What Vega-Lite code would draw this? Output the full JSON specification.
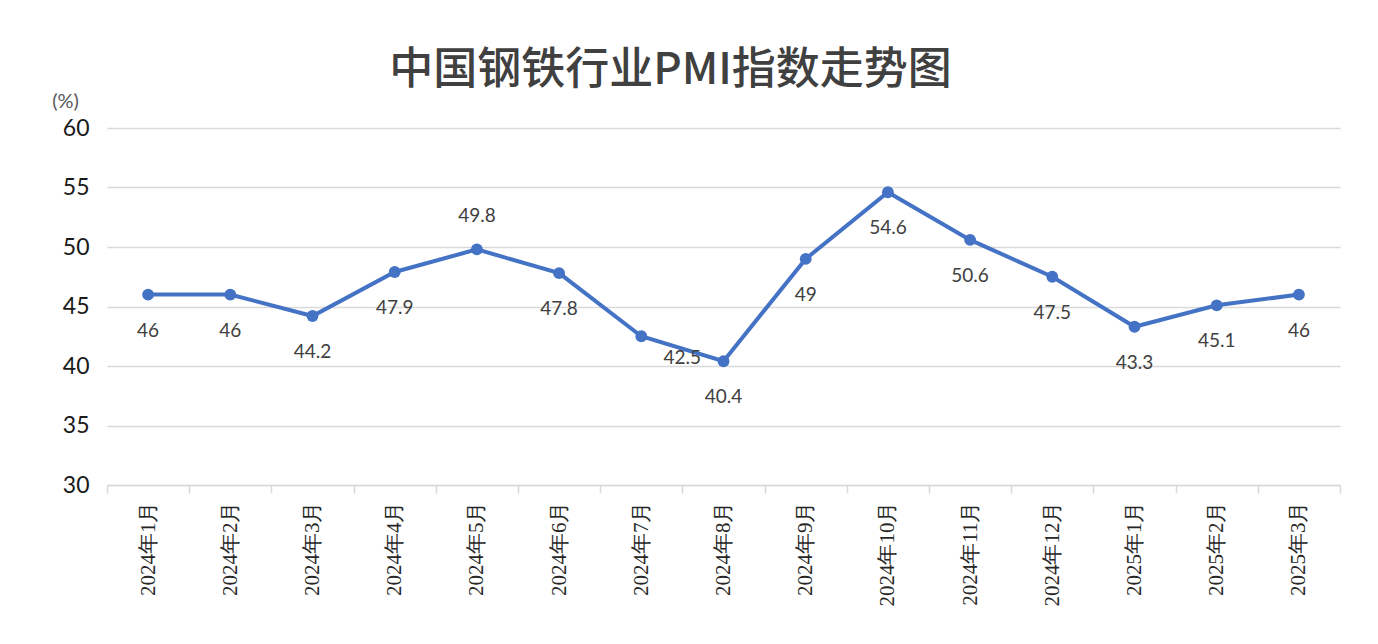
{
  "$schema": "https://vega.github.io/schema/vega-lite/v6.json",
  "autosize": "none",
  "width": 1233,
  "height": 357,
  "padding": {"left": 107, "top": 128, "right": 38, "bottom": 159},
  "background": "white",
  "title": {
    "text": "中国钢铁行业PMI指数走势图",
    "font": "Noto Sans CJK SC",
    "fontSize": 44,
    "fontWeight": 500,
    "color": "#404040",
    "anchor": "middle",
    "dx": -53,
    "offset": -2
  },
  "config": {
    "view": {"stroke": null},
    "axis": {"gridColor": "#d9d9d9", "domainColor": "#d9d9d9", "tickColor": "#d9d9d9"}
  },
  "data": {
    "values": [
      {"month": "2024年1月", "pmi": 46, "pos": "below"},
      {"month": "2024年2月", "pmi": 46, "pos": "below"},
      {"month": "2024年3月", "pmi": 44.2, "pos": "below"},
      {"month": "2024年4月", "pmi": 47.9, "pos": "below"},
      {"month": "2024年5月", "pmi": 49.8, "pos": "above"},
      {"month": "2024年6月", "pmi": 47.8, "pos": "below"},
      {"month": "2024年7月", "pmi": 42.5, "pos": "right"},
      {"month": "2024年8月", "pmi": 40.4, "pos": "below"},
      {"month": "2024年9月", "pmi": 49, "pos": "below"},
      {"month": "2024年10月", "pmi": 54.6, "pos": "below"},
      {"month": "2024年11月", "pmi": 50.6, "pos": "below"},
      {"month": "2024年12月", "pmi": 47.5, "pos": "below"},
      {"month": "2025年1月", "pmi": 43.3, "pos": "below"},
      {"month": "2025年2月", "pmi": 45.1, "pos": "below"},
      {"month": "2025年3月", "pmi": 46, "pos": "below"}
    ]
  },
  "encoding": {
    "x": {
      "field": "month",
      "type": "ordinal",
      "sort": null,
      "scale": {"paddingInner": 0, "paddingOuter": 0},
      "axis": {
        "title": null,
        "labelAngle": -90,
        "labelAlign": "right",
        "labelBaseline": "middle",
        "labelFont": "Liberation Serif",
        "labelFontSize": 21,
        "labelColor": "#262626",
        "labelPadding": 8,
        "tickBand": "extent",
        "tickSize": 8,
        "tickWidth": 1.5,
        "domainWidth": 1.5,
        "grid": false
      }
    },
    "y": {
      "field": "pmi",
      "type": "quantitative",
      "scale": {"domain": [30, 60], "nice": false, "zero": false},
      "axis": {
        "title": "(%)",
        "titleAngle": 0,
        "titleX": -42,
        "titleY": -17,
        "titleFont": "Lato",
        "titleFontSize": 20,
        "titleFontWeight": "normal",
        "titleColor": "#595959",
        "titleAlign": "center",
        "values": [30, 35, 40, 45, 50, 55, 60],
        "labelFont": "Lato",
        "labelFontSize": 23,
        "labelColor": "#1a1a1a",
        "labelPadding": 18,
        "ticks": false,
        "domain": false,
        "grid": true,
        "gridWidth": 1.5
      }
    }
  },
  "layer": [
    {"mark": {"type": "line", "color": "#4472C4", "strokeWidth": 4}},
    {"mark": {"type": "point", "filled": true, "opacity": 1, "color": "#4472C4", "size": 140}},
    {
      "transform": [{"filter": "datum.pos === 'below'"}],
      "mark": {"type": "text", "dy": 36, "font": "Lato", "fontSize": 19, "color": "#404040"},
      "encoding": {"text": {"field": "pmi", "type": "quantitative"}}
    },
    {
      "transform": [{"filter": "datum.pos === 'above'"}],
      "mark": {"type": "text", "dy": -33, "font": "Lato", "fontSize": 19, "color": "#404040"},
      "encoding": {"text": {"field": "pmi", "type": "quantitative"}}
    },
    {
      "transform": [{"filter": "datum.pos === 'right'"}],
      "mark": {"type": "text", "dx": 41, "dy": 22, "font": "Lato", "fontSize": 19, "color": "#404040"},
      "encoding": {"text": {"field": "pmi", "type": "quantitative"}}
    }
  ]
}
